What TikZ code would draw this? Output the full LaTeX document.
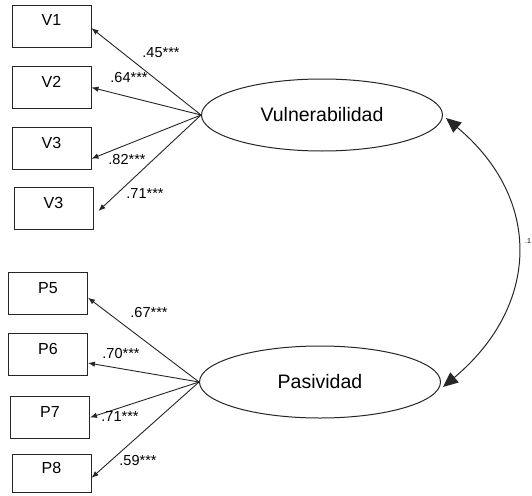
\documentclass[tikz,border=0pt]{standalone}
\usepackage{fontspec}
\setmainfont{Liberation Sans}
\usetikzlibrary{shapes.geometric,arrows.meta}

\tikzset{
  indicator/.style={draw=black!85, line width=0.95pt, minimum width=79pt, minimum height=42pt,
    inner sep=0pt, font=\fontsize{16}{18}\selectfont},
  factor/.style={ellipse, draw=black!85, line width=1pt, minimum width=241pt, minimum height=72pt,
    inner sep=0pt, font=\fontsize{19.5}{22}\selectfont},
  loading/.style={draw=black!85, line width=0.9pt, -{Latex[length=7pt,width=5.5pt]}},
  weight/.style={inner sep=0pt, font=\fontsize{14.5}{16}\selectfont},
  covar/.style={draw=black!85, line width=1pt,
    {Triangle[length=15pt,width=13pt]}-{Triangle[length=15pt,width=13pt]}},
}

% indicator names sit in the upper half of their boxes
\newcommand{\up}[1]{\smash{#1}}

\begin{document}
\begin{tikzpicture}[x=1pt,y=-1pt]
  \useasboundingbox (0,0) rectangle (532,495);
  \fill[white] (0,0) rectangle (532,495);

  % latent factors
  \node[factor] (vul) at (322,115) {Vulnerabilidad};
  \node[factor] (pas) at (320,382) {Pasividad};

  % observed indicators
  \node[indicator] (v1) at (51.5,26)   {\up{V1}};
  \node[indicator] (v2) at (51.5,87.5) {\up{V2}};
  \node[indicator] (v3) at (51.5,148)  {\up{V3}};
  \node[indicator] (v4) at (53.5,208.5){\up{V3}};

  \node[indicator] (p5) at (48,293.5)  {\up{P5}};
  \node[indicator] (p6) at (48,354.5)  {\up{P6}};
  \node[indicator] (p7) at (50,417.5)  {\up{P7}};
  \node[indicator, minimum height=38pt] (p8) at (51.5,473) {\up{P8}};

  % factor loadings
  \draw[loading] (vul.west) -- (v1.-3);
  \draw[loading] (vul.west) -- (v2.east);
  \draw[loading] (vul.west) -- (v3.-15);
  \draw[loading] (vul.west) -- ([xshift=5pt,yshift=-2.5pt]v4.east);

  \draw[loading] (pas.west) -- (p5.-6);
  \draw[loading] (pas.west) -- (p6.-12);
  \draw[loading] (pas.west) -- (p7.east);
  \draw[loading] (pas.west) -- (p8.-7);

  \node[weight] (w1) at (161,53)  {.45***};
  \node[weight] (w2) at (129,78)  {.64***};
  \node[weight] (w3) at (127,160) {.82***};
  \node[weight] (w4) at (145,194) {.71***};

  \node[weight] (w5) at (149,313) {.67***};
  \node[weight] (w6) at (121,354) {.70***};
  \node[weight] (w7) at (120,417) {.71***};
  \node[weight] (w8) at (138,461) {.59***};

  % factor covariance
  \draw[covar] ([xshift=3pt,yshift=-3pt]vul.east) to[out=-40,in=40,looseness=1.2]
    ([xshift=2pt,yshift=-5pt]pas.east);
  \node[inner sep=0pt, font=\fontsize{7}{8}\selectfont] (cov) at (528,241) {.1};
\end{tikzpicture}
\end{document}
